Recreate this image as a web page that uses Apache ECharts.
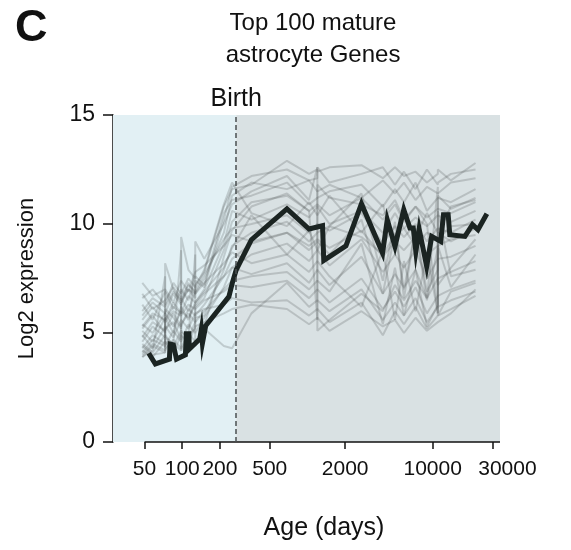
<!DOCTYPE html>
<html>
<head>
<meta charset="utf-8">
<script src="https://cdn.jsdelivr.net/npm/echarts@6/dist/echarts.min.js"></script>
<style>
  html, body { margin: 0; padding: 0; background: #fff; }
  #chart { width: 571px; height: 550px; }
</style>
</head>
<body>
<div id="chart"></div>
<script>
// x positions (age in days, log axis)
const X_MIN = 28, X_MAX = 34500, BIRTH = 270;
const X_TICKS = [50, 100, 200, 500, 2000, 10000, 30000];

// ages shared by the single-gene lines (repeated ages = several samples)
const AGE_G = [48,58,73,73,85,98,98,112,127,127,150,215,250,357,686,1030,1200,1200,1500,2700,4000,5000,5900,7300,9000,11000,11000,14000,22000];

const GENE_01 = [5.2,5.8,5.0,5.6,6.2,5.9,6.4,7.0,6.6,7.2,7.8,10.8,11.6,11.8,12.9,12.3,12.5,12.4,12.6,12.7,12.1,12.6,12.2,12.4,11.9,12.3,12.5,12.0,12.8];
const GENE_02 = [4.6,5.3,4.8,6.1,5.7,5.2,6.6,6.0,6.9,7.4,7.1,10.2,11.7,12.2,12.5,12.0,12.1,12.6,11.9,12.3,12.6,11.8,12.4,11.6,12.5,11.8,11.9,12.3,12.5];
const GENE_03 = [5.8,6.4,5.9,5.9,6.8,6.3,6.3,7.3,6.8,6.8,7.5,9.6,11.3,11.9,11.6,12.0,11.5,11.5,11.8,11.2,12.0,11.4,11.9,11.1,11.7,11.4,11.4,11.9,12.1];
const GENE_04 = [6.3,5.6,6.9,6.9,6.1,7.0,7.0,6.5,7.6,7.6,7.2,10.5,11.1,11.3,11.9,10.9,11.2,11.2,11.5,11.8,10.8,11.6,11.0,11.9,10.6,11.2,11.2,11.0,11.6];
const GENE_05 = [4.3,4.9,4.5,5.2,5.5,4.7,5.4,5.9,5.5,6.2,6.6,8.8,10.1,11.0,11.3,10.6,10.9,10.9,10.4,11.2,10.2,10.9,10.1,10.8,10.3,10.7,10.7,10.5,11.0];
const GENE_06 = [5.1,4.6,5.7,5.7,5.0,6.2,6.2,5.6,6.4,6.4,7.0,9.1,10.6,10.2,10.9,10.3,10.8,10.8,10.0,10.6,9.6,10.5,9.8,10.3,9.9,10.4,10.4,10.1,10.6];
const GENE_07 = [6.8,6.1,6.5,6.5,7.1,6.6,6.6,7.2,6.9,6.9,7.7,9.3,9.8,10.0,10.4,9.6,10.0,10.0,9.7,10.5,9.1,9.9,9.4,10.0,9.2,9.8,9.8,9.6,10.2];
const GENE_08 = [3.9,4.4,4.1,4.8,4.5,4.2,5.0,4.9,5.2,5.7,5.8,7.9,9.0,9.6,10.1,9.2,9.6,9.6,9.9,9.4,8.6,9.5,9.8,9.0,9.6,9.3,9.3,9.9,10.0];
const GENE_09 = [7.3,6.7,7.0,7.0,6.4,7.4,7.4,6.9,7.8,7.8,8.1,9.0,9.5,9.2,9.6,9.0,9.3,9.3,8.9,9.7,8.5,9.2,8.8,9.4,8.6,9.0,9.0,9.3,9.5];
const GENE_10 = [4.8,5.5,5.1,5.1,5.9,5.3,5.3,6.1,5.8,5.8,6.3,7.6,8.4,9.1,9.6,8.8,9.2,9.2,8.6,10.2,6.8,9.6,7.0,9.8,6.5,8.9,7.2,8.0,9.3];
const GENE_11 = [4.1,4.7,4.4,4.4,5.1,4.6,4.6,5.4,5.0,5.0,5.7,7.1,8.0,8.6,9.1,8.3,8.8,8.8,8.1,9.3,7.8,8.6,8.0,8.8,7.5,8.4,8.4,8.5,9.0];
const GENE_12 = [6.0,6.6,6.2,6.2,6.9,6.5,6.5,7.0,6.8,6.8,7.3,8.2,8.7,8.2,8.6,7.8,8.3,8.3,7.6,6.2,8.8,5.6,8.3,6.0,8.7,5.9,9.0,7.1,8.6];
const GENE_13 = [5.4,5.0,5.9,5.9,5.3,6.0,6.0,5.7,6.3,6.3,6.8,7.6,8.0,7.7,8.2,7.3,7.9,7.9,7.2,8.5,6.8,7.7,7.1,7.9,6.6,7.5,7.5,7.8,8.3];
const GENE_14 = [4.5,4.1,4.9,4.9,4.4,5.1,5.1,4.8,5.5,5.5,6.0,7.0,7.4,7.6,7.8,7.0,7.4,7.4,6.9,9.1,5.4,8.0,5.8,7.9,5.3,6.3,10.6,7.6,7.9];
const GENE_15 = [5.6,6.2,5.5,5.5,6.0,5.8,5.8,6.3,6.1,6.1,6.5,6.9,7.2,7.1,7.4,6.6,7.0,7.0,6.4,7.5,6.1,6.9,6.2,7.1,5.9,6.7,6.7,7.0,7.4];
const GENE_16 = [4.0,4.5,4.2,4.2,4.7,4.3,4.3,5.0,4.6,4.6,5.2,4.4,4.3,5.9,7.3,6.2,6.5,6.5,6.0,7.0,5.6,6.4,5.8,6.6,5.5,6.2,6.2,6.5,6.9];
const GENE_17 = [4.9,4.3,5.3,5.3,4.8,5.6,5.6,5.2,5.9,5.9,6.1,6.3,6.6,6.4,6.5,5.8,6.1,6.1,5.5,6.4,4.9,6.0,5.4,6.2,5.2,5.8,5.8,6.1,6.7];
const GENE_18 = [4.2,3.9,4.6,4.6,4.1,4.9,4.9,4.5,5.3,5.3,5.5,5.9,6.1,6.3,6.1,5.4,5.7,5.7,5.1,6.0,5.3,5.6,5.0,5.7,5.1,5.5,5.5,5.9,7.0];
const GENE_19 = [4.4,4.0,4.1,8.2,7.0,6.4,9.4,7.9,7.5,9.2,8.4,10.0,10.9,11.5,12.2,11.1,12.6,5.1,5.6,6.8,6.0,7.2,6.5,7.4,6.6,11.7,5.8,6.9,7.3];
const GENE_20 = [3.9,4.2,7.6,4.3,4.6,8.8,4.2,4.8,8.6,4.4,5.3,8.5,9.7,10.8,11.4,10.6,5.6,11.8,11.2,10.9,10.4,11.1,10.2,10.8,10.0,5.9,11.3,10.7,11.2];
const GENE_21 = [6.6,7.0,6.3,6.3,7.3,6.8,6.8,7.5,7.1,7.1,7.9,10.9,11.9,10.5,9.9,11.0,10.4,10.4,11.3,9.6,10.9,8.9,10.6,9.4,10.5,9.6,9.6,10.8,11.1];
const GENE_22 = [5.3,5.9,5.6,5.6,6.4,5.9,5.9,6.7,6.4,6.4,6.9,8.0,8.9,10.4,8.6,9.7,8.8,8.8,9.9,11.4,7.4,10.1,6.6,9.8,6.9,7.9,9.6,9.2,9.8];

const GENES = [GENE_01,GENE_02,GENE_03,GENE_04,GENE_05,GENE_06,GENE_07,GENE_08,GENE_09,GENE_10,GENE_11,
               GENE_12,GENE_13,GENE_14,GENE_15,GENE_16,GENE_17,GENE_18,GENE_19,GENE_20,GENE_21,GENE_22];

// the thick summary line
const AGE_MEAN = [54,61,79,80,85,90,106,108,113,114,138,142,145,154,236,251,270,357,686,1030,1320,1350,2030,2700,3980,4340,5000,5880,6580,7000,7340,7800,8960,9820,11600,12200,13300,13700,18100,20800,23000,27100];
const MEAN_EXPR = [4.07,3.58,3.80,4.49,4.46,3.80,4.0,4.96,4.96,4.26,4.72,5.15,4.53,5.33,6.67,7.29,7.9,9.28,10.69,9.77,9.92,8.33,9.0,10.93,8.67,10.2,8.97,10.66,9.82,9.82,8.74,9.77,8.05,9.43,9.2,10.43,10.43,9.51,9.43,9.97,9.74,10.47];

const FONT = '"Liberation Sans", Arial, Helvetica, sans-serif';

function pairs(xs, ys) {
  return xs.map((x, i) => [x, ys[i]]);
}

const chart = echarts.init(document.getElementById('chart'));

const series = [];

// shading behind everything
series.push({
  type: 'line',
  data: [],
  z: 1,
  silent: true,
  markArea: {
    silent: true,
    data: [
      [{ xAxis: X_MIN, itemStyle: { color: '#e2f0f4' } }, { xAxis: BIRTH }],
      [{ xAxis: BIRTH, itemStyle: { color: '#d9e1e3' } }, { xAxis: X_MAX }]
    ]
  }
});

GENES.forEach((g, i) => {
  series.push({
    name: 'gene' + (i + 1),
    type: 'line',
    data: pairs(AGE_G, g),
    showSymbol: false,
    silent: true,
    z: 2,
    lineStyle: { color: 'rgba(70,75,75,0.22)', width: 2 }
  });
});

series.push({
  name: 'mean',
  type: 'line',
  data: pairs(AGE_MEAN, MEAN_EXPR),
  showSymbol: false,
  silent: true,
  z: 4,
  lineStyle: { color: '#1b2422', width: 5, join: 'miter' },
  markLine: {
    silent: true,
    symbol: 'none',
    animation: false,
    data: [
      // x axis line: starts at the first tick like the original
      [{ coord: [X_TICKS[0], 0], lineStyle: { color: '#111', width: 1.5, type: 'solid' }, label: { show: false } },
       { coord: [X_MAX, 0] }],
      { xAxis: BIRTH,
        lineStyle: { color: '#4a4f50', width: 1.5, type: [5, 3] },
        label: { show: true, position: 'end', formatter: 'Birth', fontSize: 25, color: '#111',
                 fontFamily: FONT, distance: 3 } }
    ]
  }
});

chart.setOption({
  animation: false,
  title: [
    { text: 'C', left: 10, top: 1,
      textStyle: { fontSize: 45, fontWeight: 'bold', color: '#111', fontFamily: FONT } },
    { text: 'Top 100 mature\nastrocyte Genes', left: 308, top: 2, textAlign: 'center',
      textStyle: { fontSize: 24, fontWeight: 'normal', color: '#111', fontFamily: FONT, lineHeight: 32 } }
  ],
  grid: { left: 113, right: 71, top: 115, bottom: 108, containLabel: false, outerBoundsMode: 'none' },
  xAxis: {
    type: 'log',
    min: X_MIN,
    max: X_MAX,
    name: 'Age (days)',
    nameLocation: 'middle',
    nameGap: 74,
    nameTextStyle: { fontSize: 25, color: '#111', fontFamily: FONT, padding: [0, 0, 0, 35] },
    axisLine: { show: false },
    splitLine: { show: false },
    axisTick: { show: true, length: 7, customValues: X_TICKS, lineStyle: { color: '#111', width: 1.5 } },
    axisLabel: {
      customValues: X_TICKS,
      // the last label sits a little right of its tick in the original
      formatter: v => (v === X_TICKS[X_TICKS.length - 1] ? '{last|' + v + '}' : String(v)),
      rich: { last: { fontSize: 21, color: '#111', fontFamily: FONT, padding: [0, 0, 0, 30] } },
      fontSize: 21, color: '#111', fontFamily: FONT, margin: 17,
      hideOverlap: false, showMinLabel: true, showMaxLabel: true
    },
    minorTick: { show: false }
  },
  yAxis: {
    type: 'value',
    min: 0,
    max: 15,
    interval: 5,
    name: 'Log2 expression',
    nameLocation: 'middle',
    nameGap: 75,
    nameTextStyle: { fontSize: 22, color: '#111', fontFamily: FONT },
    axisLine: { show: true, lineStyle: { color: '#111', width: 1.5 } },
    axisTick: { show: true, length: 10, lineStyle: { color: '#111', width: 1.5 } },
    axisLabel: { fontSize: 23, color: '#111', fontFamily: FONT, margin: 18 },
    splitLine: { show: false }
  },
  series: series
});
</script>
</body>
</html>
